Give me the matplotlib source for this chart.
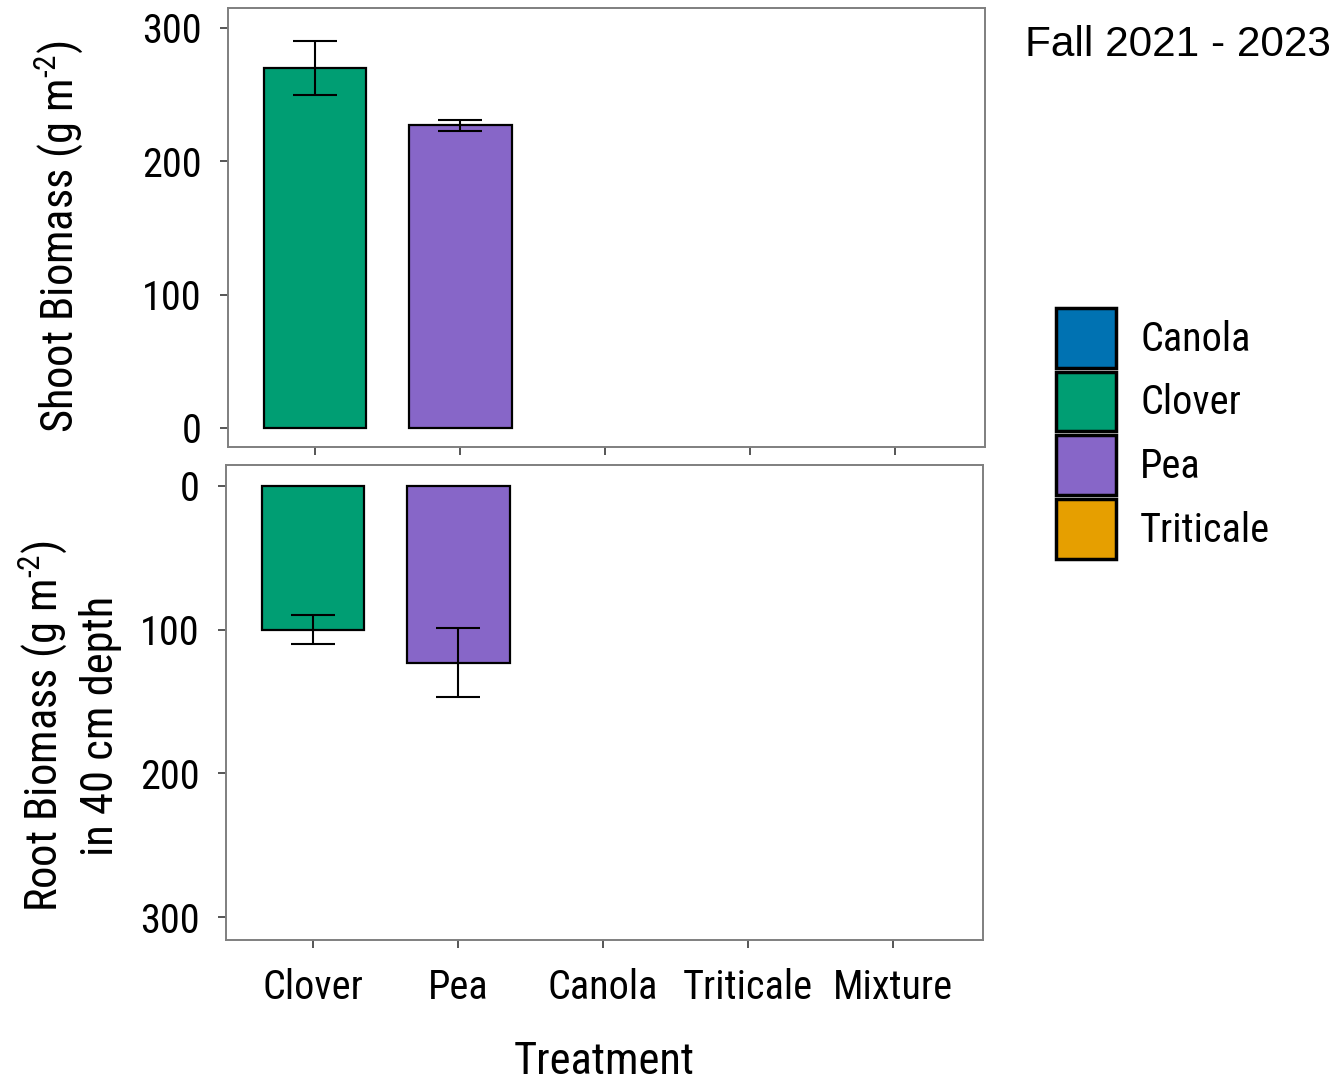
import matplotlib
matplotlib.use("Agg")
import matplotlib.pyplot as plt
from matplotlib import font_manager
from matplotlib.patches import Patch

names = {f.name for f in font_manager.fontManager.ttflist}
narrow = [f for f in ["Liberation Sans Narrow", "Roboto Condensed", "Open Sans Condensed"] if f in names]
NARROW = narrow + ["Liberation Sans", "DejaVu Sans"]
REG = ["Liberation Sans", "DejaVu Sans"]
plt.rcParams['font.family'] = NARROW
plt.rcParams['mathtext.fontset'] = 'custom'
plt.rcParams['mathtext.rm'] = NARROW[0]

# ---- data ----
treatments = ["Clover", "Pea", "Canola", "Triticale", "Mixture"]
bar_treatments = ["Clover", "Pea"]
shoot_mean = [270, 227]
shoot_se = [20, 4]
root_mean = [100, 123]
root_se = [10, 24]
legend_labels = ["Canola", "Clover", "Pea", "Triticale"]
colors = {"Canola": "#0072B2", "Clover": "#009E73", "Pea": "#8766C8", "Triticale": "#E69F00"}
title = "Fall 2021 - 2023"
shoot_label = "Shoot Biomass (g m$^{\\mathregular{\u20102}}$)"
root_label = "Root Biomass (g m$^{\\mathregular{\u20102}}$)\nin 40 cm depth"

W, H = 1338, 1081
fig = plt.figure(figsize=(W / 100, H / 100), dpi=100)

ax1 = fig.add_axes([228 / W, 1 - 447 / H, 757 / W, 439 / H])
ax2 = fig.add_axes([226 / W, 1 - 940 / H, 757 / W, 475 / H])

xpos = {t: i for i, t in enumerate(treatments)}
bx = [xpos[t] for t in bar_treatments]
bc = [colors[t] for t in bar_treatments]

ax1.bar(bx, shoot_mean, width=0.71, color=bc, edgecolor="black", linewidth=1.6, zorder=2)
ax1.errorbar(bx, shoot_mean, yerr=shoot_se, fmt="none", ecolor="black", elinewidth=1.5,
             capsize=16, capthick=1.5, zorder=3)
ax2.bar(bx, root_mean, width=0.71, color=bc, edgecolor="black", linewidth=1.6, zorder=2)
ax2.errorbar(bx, root_mean, yerr=root_se, fmt="none", ecolor="black", elinewidth=1.5,
             capsize=16, capthick=1.5, zorder=3)

ax1.set_xlim(-0.6, 4.62)
ax2.set_xlim(-0.6, 4.62)
ax1.set_ylim(-14.3, 315)
ax2.set_ylim(316, -14.6)

for ax in (ax1, ax2):
    ax.set_yticks([0, 100, 200, 300])
    ax.set_xticks(range(len(treatments)))
    for s in ax.spines.values():
        s.set_color("#7f7f7f")
        s.set_linewidth(1.4)
    ax.tick_params(axis="both", colors="#555555", length=6, width=1.4, labelcolor="black",
                   labelsize=29)
    ax.tick_params(axis="y", pad=13)
    ax.tick_params(axis="x", pad=14)

ax1.set_xticklabels([])
ax2.set_xticklabels(treatments)

ax1.set_ylabel(shoot_label, fontsize=32)
ax1.yaxis.set_label_coords((85 - 228) / 757, 0.48)
ax2.set_ylabel(root_label, fontsize=32, linespacing=1.3)
ax2.yaxis.set_label_coords((122 - 226) / 757, 0.45)
ax2.set_xlabel("Treatment", fontsize=32, labelpad=25)

fig.text(1025 / W, 1 - 45 / H, title, fontsize=30.5, family=REG, ha="left", va="center")

handles = [Patch(facecolor=colors[l], edgecolor="black", linewidth=2.5) for l in legend_labels]
fig.legend(handles, legend_labels, loc="upper left", bbox_to_anchor=(1056 / W, 1 - 308 / H),
           frameon=False, fontsize=29, handlelength=1.49, handleheight=1.9,
           labelspacing=0.1, handletextpad=0.6, borderaxespad=0, borderpad=0)

fig.savefig("out.png", dpi=100)
